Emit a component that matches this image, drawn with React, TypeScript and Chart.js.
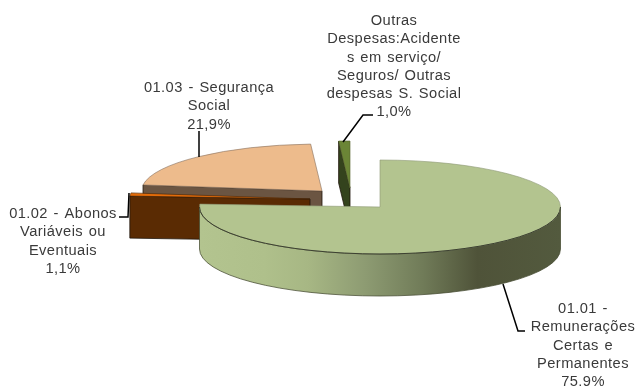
import { useEffect, useRef } from "react";
import { Chart, registerables } from "chart.js";

Chart.register(...registerables);

// Slices in clockwise order from twelve o'clock.
const categories: string[][] = [
  ["01.01 -", "Remunerações", "Certas e", "Permanentes"],
  ["01.02 - Abonos", "Variáveis ou", "Eventuais"],
  ["01.03 - Segurança", "Social"],
  ["Outras", "Despesas:Acidente", "s em serviço/", "Seguros/ Outras", "despesas S. Social"],
];
const values = [75.9, 1.1, 21.9, 1.0];
const valueLabels = ["75.9%", "1,1%", "21,9%", "1,0%"];

const topColors = ["#B3C48F", "#E36C0A", "#EDBB8C", "#6B8536"];
const sideColors = ["#B3C48F", "#5A2B03", "#6B5542", "#34431D"];
const edgeColors = ["#8F9A78", "#4A2608", "#8A7563", "#56652F"];

// Projection of the flat pie onto a tilted plane.
const CENTER_Y = 207;
const TILT = 47 / 180.5;
const DEPTH = 42;

// Where each slice is pulled out to, relative to the pie centre.
const explode = [
  { x: 0, y: 0 },
  { x: -70, y: -8 },
  { x: -58, y: -16 },
  { x: -30, y: -19 },
];
const drawOrder = [3, 2, 1, 0];

// Label blocks: centre x, first line's baseline, and leader polyline.
const LINE_HEIGHT = 18.25;
const labelLayout = [
  { cx: 583, y: 313, leader: [[503, 284], [518, 331], [525, 331]] },
  { cx: 63, y: 218, leader: [[129, 193], [128, 217], [119, 217]] },
  { cx: 209, y: 92, leader: [[199, 157], [199, 131]] },
  { cx: 394, y: 25, leader: [[343, 142], [363, 115], [373, 115]] },
];

const pie3d = {
  id: "pie3d",
  beforeDatasetDraw(chart: any) {
    const ctx: CanvasRenderingContext2D = chart.ctx;
    const arcs = chart.getDatasetMeta(0).data;

    drawOrder.forEach((i) => {
      const arc = arcs[i];
      const { x, y, startAngle, endAngle, outerRadius: r } = arc;
      const ox = x + explode[i].x;
      const oy = CENTER_Y + explode[i].y;
      const ry = r * TILT;

      // Outer wall: only the part of the rim facing the viewer.
      const from = Math.max(startAngle, 0);
      const to = Math.min(endAngle, Math.PI);
      if (to > from) {
        const g = ctx.createLinearGradient(ox - r, 0, ox + r, 0);
        g.addColorStop(0, sideColors[i]);
        g.addColorStop(0.18, "#AFC08B");
        g.addColorStop(0.3, "#A7B784");
        g.addColorStop(0.46, "#8D9B72");
        g.addColorStop(0.62, "#707B58");
        g.addColorStop(0.77, "#4F5339");
        g.addColorStop(1, "#535A3E");
        ctx.beginPath();
        ctx.ellipse(ox, oy, r, ry, 0, from, to);
        ctx.ellipse(ox, oy + DEPTH, r, ry, 0, to, from, true);
        ctx.closePath();
        ctx.fillStyle = g;
        ctx.fill();
        ctx.strokeStyle = "rgba(70,75,50,0.75)";
        ctx.lineWidth = 1;
        ctx.stroke();
      }

      // Cut face along the slice's leading edge.
      if (i !== 0) {
        const ex = ox + r * Math.cos(startAngle);
        const ey = oy + ry * Math.sin(startAngle);
        ctx.beginPath();
        ctx.moveTo(ox, oy);
        ctx.lineTo(ex, ey);
        ctx.lineTo(ex, ey + DEPTH);
        ctx.lineTo(ox, oy + DEPTH);
        ctx.closePath();
        ctx.fillStyle = sideColors[i];
        ctx.fill();
        ctx.strokeStyle = "rgba(30,20,10,0.8)";
        ctx.lineWidth = 1;
        ctx.stroke();
      }

      // Top face, drawn by the arc element under the tilt transform.
      ctx.save();
      ctx.translate(explode[i].x, oy);
      ctx.scale(1, TILT);
      ctx.translate(0, -y);
      arc.draw(ctx);
      ctx.restore();

      // Darker rim between the top face and the wall.
      if (to > from) {
        ctx.beginPath();
        ctx.ellipse(ox, oy, r, ry, 0, from, to);
        ctx.strokeStyle = "#3C4030";
        ctx.lineWidth = 1;
        ctx.stroke();
      }
    });
    return false;
  },
  afterDatasetsDraw(chart: any) {
    const ctx: CanvasRenderingContext2D = chart.ctx as any;
    ctx.save();
    ctx.strokeStyle = "#000000";
    ctx.lineWidth = 1.5;
    labelLayout.forEach(({ leader }) => {
      ctx.beginPath();
      leader.forEach(([px, py], k) => (k ? ctx.lineTo(px, py) : ctx.moveTo(px, py)));
      ctx.stroke();
    });

    ctx.fillStyle = "#3A3A3A";
    ctx.font = '14.67px "Liberation Sans", Arial, sans-serif';
    (ctx as any).letterSpacing = "0.42px";
    (ctx as any).wordSpacing = "1.2px";
    ctx.textAlign = "center";
    ctx.textBaseline = "alphabetic";
    categories.forEach((lines, i) => {
      const { cx, y } = labelLayout[i];
      [...lines, valueLabels[i]].forEach((text, k) => {
        ctx.fillText(text, cx, y + k * LINE_HEIGHT);
      });
    });
    ctx.restore();
  },
};

export default function App() {
  const ref = useRef<HTMLCanvasElement>(null);

  useEffect(() => {
    const chart = new Chart(ref.current!, {
      type: "pie",
      data: {
        labels: categories.map((c) => c.join(" ")),
        datasets: [
          {
            data: values,
            backgroundColor: topColors,
            borderColor: edgeColors,
            borderWidth: 1,
            borderJoinStyle: "miter",
          },
        ],
      },
      options: {
        responsive: false,
        animation: false,
        events: [],
        layout: { padding: { left: 199, right: 75, top: 12, bottom: 13 } },
        plugins: { legend: { display: false }, tooltip: { enabled: false } },
      },
      plugins: [pie3d],
    } as any);
    return () => chart.destroy();
  }, []);

  return (
    <div style={{ position: "fixed", left: 0, top: 0, width: 636, height: 387, background: "#fff" }}>
      <canvas ref={ref} width={636} height={387} style={{ display: "block" }} />
    </div>
  );
}
